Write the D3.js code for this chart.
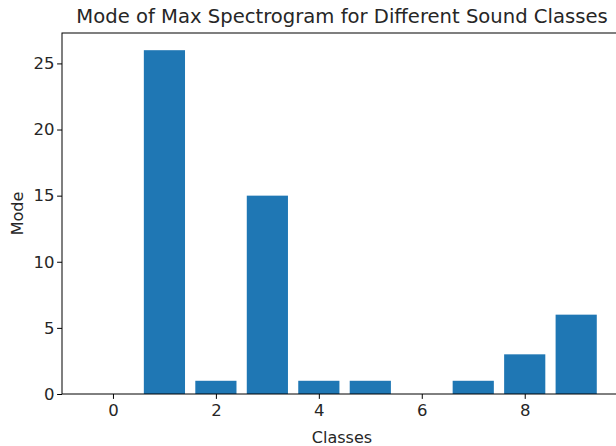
<!DOCTYPE html>
<html>
<head>
<meta charset="utf-8">
<script src="https://cdn.jsdelivr.net/npm/d3@7"></script>
<style>
  body { margin: 0; background: #fff; }
  text { font-family: "DejaVu Sans", sans-serif; fill: #262626; }
</style>
</head>
<body>
<div id="chart"></div>
<script>
const classes = [0, 1, 2, 3, 4, 5, 6, 7, 8, 9];
const modes = [0, 26, 1, 15, 1, 1, 0, 1, 3, 6];
const xTicks = [0, 2, 4, 6, 8];
const yTicks = [0, 5, 10, 15, 20, 25];

const width = 616;
const height = 446;
const margin = { top: 33, right: -6, bottom: 52, left: 62 };
const innerW = width - margin.left - margin.right;
const innerH = height - margin.top - margin.bottom;

const svg = d3.select("#chart")
  .append("svg")
  .attr("width", width)
  .attr("height", height);

const g = svg.append("g")
  .attr("transform", `translate(${margin.left},${margin.top})`);

const barW = 0.8;
const x = d3.scaleLinear()
  .domain([-0.99, 9.89])
  .range([0, innerW]);

const y = d3.scaleLinear()
  .domain([0, d3.max(modes) * 1.05])
  .range([innerH, 0]);

g.selectAll(".bar")
  .data(classes)
  .enter()
  .append("rect")
  .attr("class", "bar")
  .attr("x", d => x(d - barW / 2))
  .attr("width", d => x(d + barW / 2) - x(d - barW / 2))
  .attr("y", (d, i) => y(modes[i]))
  .attr("height", (d, i) => innerH - y(modes[i]))
  .attr("fill", "#1f77b4");

const xAxis = g.append("g")
  .attr("transform", `translate(0,${innerH})`)
  .call(d3.axisBottom(x).tickValues(xTicks).tickSize(4.9).tickPadding(4.9).tickFormat(d3.format("d")));

const yAxis = g.append("g")
  .call(d3.axisLeft(y).tickValues(yTicks).tickSize(4.9).tickPadding(2.5).tickFormat(d3.format("d")));

[xAxis, yAxis].forEach(a => {
  a.select(".domain").remove();
  a.selectAll("line").attr("stroke", "#000").attr("stroke-width", 1);
  a.selectAll("text").style("font-size", "16.5px").style("font-family", "DejaVu Sans, sans-serif").attr("fill", "#262626");
});

g.append("rect")
  .attr("x", 0)
  .attr("y", 0)
  .attr("width", innerW)
  .attr("height", innerH)
  .attr("fill", "none")
  .attr("stroke", "#000")
  .attr("stroke-width", 1);

svg.append("text")
  .attr("x", margin.left + innerW / 2)
  .attr("y", 23)
  .attr("text-anchor", "middle")
  .style("font-size", "19.6px")
  .text("Mode of Max Spectrogram for Different Sound Classes");

svg.append("text")
  .attr("x", margin.left + innerW / 2)
  .attr("y", 443)
  .attr("text-anchor", "middle")
  .style("font-size", "16px")
  .text("Classes");

svg.append("text")
  .attr("transform", `translate(23,${margin.top + innerH / 2}) rotate(-90)`)
  .attr("text-anchor", "middle")
  .style("font-size", "16px")
  .text("Mode");
</script>
</body>
</html>
